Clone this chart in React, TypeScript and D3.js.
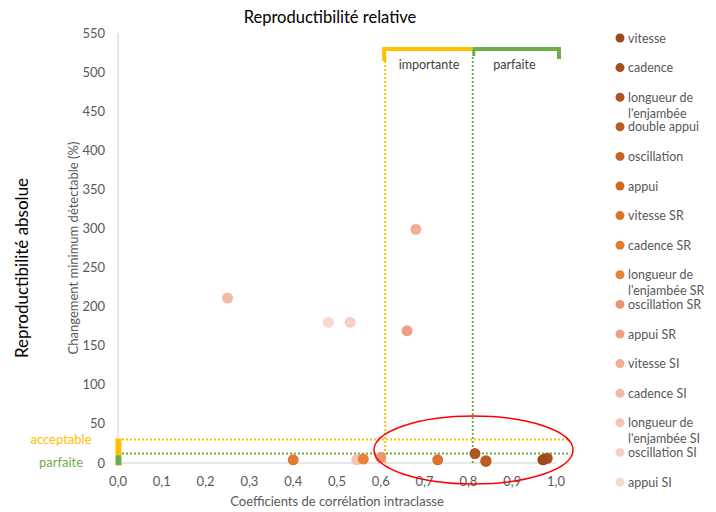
import React from "react";
import * as d3 from "d3";

const seriesNames = [
  "vitesse", "cadence", "longueur de\nl'enjambée", "double appui", "oscillation", "appui",
  "vitesse SR", "cadence SR", "longueur de\nl'enjambée SR", "oscillation SR", "appui SR",
  "vitesse SI", "cadence SI", "longueur de\nl'enjambée SI", "oscillation SI", "appui SI",
];
const iccValues = [0.97, 0.98, 0.815, 0.84, 0.84, 0.975, 0.73, 0.40, 0.56, 0.60, 0.66, 0.68, 0.25, 0.545, 0.53, 0.48];
const mdcValues = [4, 6, 12, 2, 3, 5, 4, 4, 5, 7, 169, 299, 211, 4, 180, 180];
const seriesColors = [
  "#9C4A1C", "#A5501E", "#AE5620", "#BA5D22", "#C56424", "#D06B27",
  "#DB722C", "#E27A33", "#E6843E", "#EA9470", "#EDA084",
  "#F0AE95", "#F2B9A4", "#F4C5B4", "#F6CFC2", "#F8D9CE",
];
const xTicks = [0, 0.1, 0.2, 0.3, 0.4, 0.5, 0.6, 0.7, 0.8, 0.9, 1.0];
const yTicks = [0, 50, 100, 150, 200, 250, 300, 350, 400, 450, 500, 550];
const iccImportante = 0.61;
const iccParfaite = 0.81;
const mdcAcceptable = 30;
const mdcParfaite = 12;

const YELLOW = "#FFC000";
const GREEN = "#70AD47";
const GRAY = "#595959";
const FONT = "Lato, 'Open Sans', sans-serif";

export default function App() {
  const x = d3.scaleLinear().domain([0, 1]).range([118, 556]);
  const y = d3.scaleLinear().domain([0, 550]).range([463, 33]);
  const fmt = (v: number) => d3.format(".1f")(v).replace(".", ",");

  const legendY0 = 38;
  const legendStep = 29.6;

  return (
    <svg width={716} height={512} style={{ position: "absolute", left: 0, top: 0, background: "#fff" }} fontFamily={FONT}>
      <text x={330} y={23} textAnchor="middle" fontSize={16.5} fill="#000">Reproductibilité relative</text>

      {/* axes */}
      <line x1={x(0)} x2={x(0)} y1={y(550)} y2={y(0)} stroke="#D0D0D0" strokeWidth={1} />
      <line x1={x(0)} x2={x(1)} y1={y(0)} y2={y(0)} stroke="#D0D0D0" strokeWidth={1} />

      {yTicks.map((t) => (
        <text key={"y" + t} x={105} y={y(t) + 4.5} textAnchor="end" fontSize={13} fill={GRAY}>{t}</text>
      ))}
      {xTicks.map((t) => (
        <text key={"x" + t} x={x(t)} y={486} textAnchor="middle" fontSize={13} fill={GRAY}>{fmt(t)}</text>
      ))}

      <text transform={`translate(78,${(y(0) + y(550)) / 2}) rotate(-90)`} textAnchor="middle" fontSize={13} fill={GRAY}>
        Changement minimum détectable (%)
      </text>
      <text transform={`translate(28,268) rotate(-90)`} textAnchor="middle" fontSize={17} fill="#000">
        Reproductibilité absolue
      </text>
      <text x={337} y={506} textAnchor="middle" fontSize={13} fill={GRAY}>Coefficients de corrélation intraclasse</text>

      {/* threshold lines */}
      <line x1={x(iccImportante)} x2={x(iccImportante)} y1={y(0)} y2={56} stroke={YELLOW} strokeWidth={2} strokeDasharray="2,2" />
      <line x1={x(iccParfaite)} x2={x(iccParfaite)} y1={y(0)} y2={56} stroke={GREEN} strokeWidth={2} strokeDasharray="2,2" />
      <line x1={x(0) + 4} x2={570} y1={y(mdcAcceptable)} y2={y(mdcAcceptable)} stroke={YELLOW} strokeWidth={2} strokeDasharray="2,2" />
      <line x1={x(0) + 4} x2={570} y1={y(mdcParfaite)} y2={y(mdcParfaite)} stroke={GREEN} strokeWidth={2} strokeDasharray="2,2" />

      {/* top brackets */}
      <path d={`M${x(iccImportante) - 1},61 V49 H${x(iccParfaite)}`} fill="none" stroke={YELLOW} strokeWidth={4} />
      <path d={`M${x(iccParfaite)},49 H${x(1) + 3} V59`} fill="none" stroke={GREEN} strokeWidth={4} />
      <path d={`M${x(iccParfaite) + 1},49 V56`} fill="none" stroke={GREEN} strokeWidth={3} />
      <text x={(x(iccImportante) + x(iccParfaite)) / 2} y={69} textAnchor="middle" fontSize={12.5} fill="#404040">importante</text>
      <text x={(x(iccParfaite) + x(1)) / 2} y={69} textAnchor="middle" fontSize={12.5} fill="#404040">parfaite</text>

      {/* left brackets */}
      <rect x={115.5} y={y(mdcAcceptable) - 1} width={6} height={y(10) - y(mdcAcceptable) + 1} fill={YELLOW} />
      <rect x={115.5} y={y(10)} width={6} height={y(-3) - y(10)} fill={GREEN} />
      <text x={61} y={444} textAnchor="middle" fontSize={13} fill={YELLOW}>acceptable</text>
      <text x={61} y={467} textAnchor="middle" fontSize={13} fill={GREEN}>parfaite</text>

      {/* points */}
      {seriesNames.map((n, i) => (
        <circle key={"p" + i} cx={x(iccValues[i])} cy={y(mdcValues[i])} r={5.5} fill={seriesColors[i]} />
      )).reverse()}

      {/* red ellipse */}
      <ellipse cx={473.5} cy={450} rx={99.5} ry={34} fill="none" stroke="#FF0000" strokeWidth={1.5} />

      {/* legend */}
      {seriesNames.map((n, i) => {
        const cy = legendY0 + i * legendStep;
        const lines = n.split("\n");
        return (
          <g key={"l" + i}>
            <circle cx={620} cy={cy} r={4.5} fill={seriesColors[i]} />
            <text x={628} y={cy + 4.5} fontSize={12.5} fill={GRAY}>
              {lines.map((l, j) => (
                <tspan key={j} x={628} dy={j === 0 ? 0 : 16}>{l}</tspan>
              ))}
            </text>
          </g>
        );
      })}
    </svg>
  );
}
